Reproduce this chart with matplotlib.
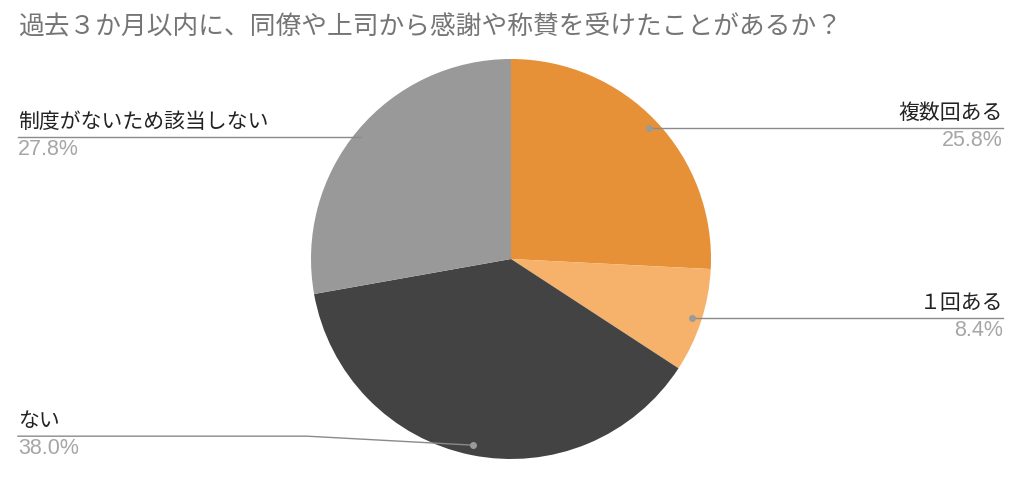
import matplotlib
matplotlib.use("Agg")
import matplotlib.pyplot as plt
import numpy as np

plt.rcParams['font.family'] = ['Noto Sans CJK JP', 'DejaVu Sans']

title = "過去３か月以内に、同僚や上司から感謝や称賛を受けたことがあるか？"
labels = ["複数回ある", "１回ある", "ない", "制度がないため該当しない"]
values = [25.8, 8.4, 38.0, 27.8]
colors = ["#E69138", "#F6B26B", "#434343", "#999999"]

W, H = 1024, 478
fig = plt.figure(figsize=(W / 100, H / 100), dpi=100)
ax = fig.add_axes([0, 0, 1, 1])

cx, cy, r = 511, H - 259, 200
wedges, _ = ax.pie(values, colors=colors, startangle=90, counterclock=False,
                   center=(cx, cy), radius=r, frame=True,
                   wedgeprops=dict(linewidth=0))
ax.set_xlim(0, W)
ax.set_ylim(0, H)
ax.axis("off")

fig.text(18 / W, 1 - 28 / H, title, fontsize=18.5, color="#757575",
         va="center", ha="left")

line_col = "#8a8a8a"
total = sum(values)
cum = 0
for lab, v in zip(labels, values):
    mid = cum + v / 2
    cum += v
    ang = np.deg2rad(90 - mid / total * 360)
    dx, dy = cx + 0.95 * r * np.cos(ang), cy + 0.95 * r * np.sin(ang)
    right = np.cos(ang) > 0
    ly = dy
    if not right and np.sin(ang) < -0.9:
        ly = dy + 9
        kx = 307
        ax.plot([dx, kx, 18], [dy, ly, ly], color=line_col, lw=1, zorder=5)
    else:
        ex = 1003 if right else 18
        ax.plot([dx, ex], [dy, ly], color=line_col, lw=1, zorder=5)
    ax.plot([dx], [dy], "o", color="#9a9a9a", ms=4, zorder=6)
    tx = 1003 if right else 18
    ha = "right" if right else "left"
    ax.text(tx, ly + 4, lab, fontsize=15, color="#222222", ha=ha, va="bottom")
    ax.text(tx, ly - 2, f"{v:.1f}%", fontsize=15.5, color="#a6a6a6", ha=ha,
            va="top", family=["Liberation Sans", "DejaVu Sans"])

fig.savefig("out.png", dpi=100)
